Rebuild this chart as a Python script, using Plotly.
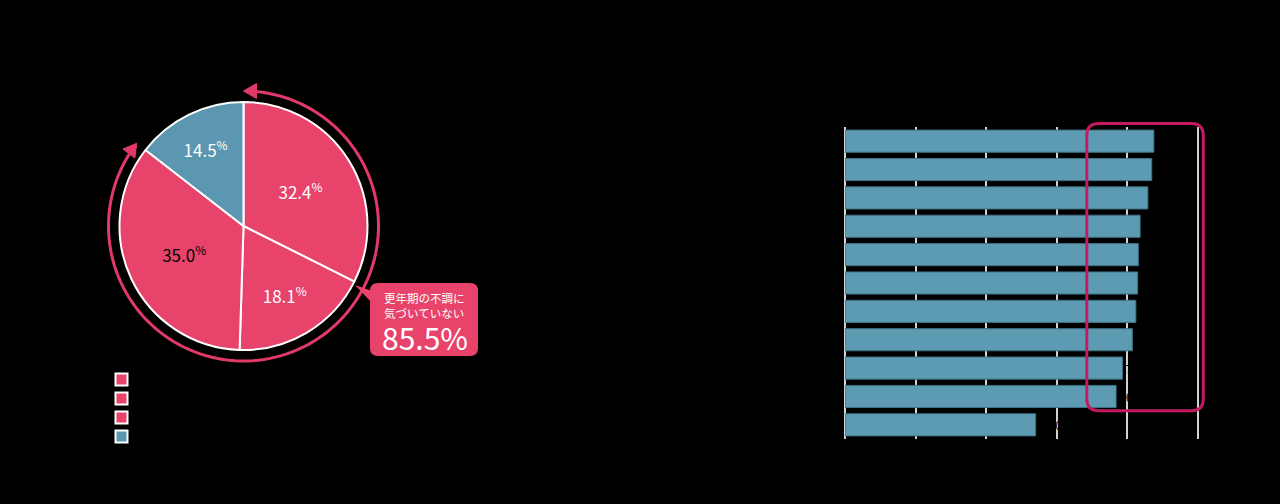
"""
更年期の不調に関する調査 - 円グラフ＋横棒グラフ
"""
import math
import plotly.graph_objects as go

W, H = 1280, 504

# 円グラフのデータ（12時の位置から時計回り）
pie_labels = ["不調はあるが更年期とは思わない", "不調を感じていない", "わからない", "更年期の不調に気づいている"]
pie_values = [32.4, 18.1, 35.0, 14.5]
pie_noticed = [False, False, False, True]

callout_lines = ["更年期の不調に", "気づいていない"]

# 横棒グラフのデータ（上から順）
bar_categories = [str(i) for i in range(1, 12)]
bar_values = [87.5, 86.9, 85.8, 83.6, 83.1, 82.9, 82.4, 81.4, 78.6, 76.8, 54.0]
highlight_range = [68.5, 101.5]   # 枠で囲む範囲（%）
highlight_rows = [0, 9]           # 枠で囲む行（上から）
x_max = 100.5

PINK = "#e8446b"
BLUE = "#5b97b0"
BAR = "#5c9bb2"
ARC = "#e23a68"
FRAME = "#c41a62"


def px(x):
    return x / W


def py(y):
    return 1 - y / H


fig = go.Figure()

# --- 円グラフ ---
cx, cy, r = 243.5, 226.0, 124.0
fig.add_trace(go.Pie(
    labels=pie_labels,
    values=pie_values,
    sort=False,
    direction="clockwise",
    rotation=0,
    text=[f"{v:.1f}<sup>%</sup>" for v in pie_values],
    textinfo="text",
    textposition="inside",
    insidetextorientation="horizontal",
    textfont=dict(size=17, family="Noto Sans CJK JP",
                  color=["white", "white", "black", "white"]),
    marker=dict(colors=[BLUE if n else PINK for n in pie_noticed],
                line=dict(color="white", width=2)),
    domain=dict(x=[px(cx - r), px(cx + r)], y=[py(cy + r), py(cy - r)]),
    hovertemplate="%{label}: %{value}%<extra></extra>",
    showlegend=True,
))

# --- 横棒グラフ ---
ax_x0 = 845.0
sx = 3.53                      # 1% あたりの幅（px）
ax_x1 = ax_x0 + x_max * sx
ax_y0, ax_y1 = 127.0, 439.0
fig.add_trace(go.Bar(
    x=bar_values,
    y=bar_categories,
    orientation="h",
    marker=dict(color=BAR, line=dict(color="#3f7284", width=1)),
    text=[f"{v:.1f}" for v in bar_values],
    textposition="outside",
    textfont=dict(color="black", size=12),
    cliponaxis=False,
    showlegend=False,
    hovertemplate="%{y}: %{x:.1f}%<extra></extra>",
))

shapes = []

# 「気づいていない」合計を示す矢印付きの円弧
not_noticed = sum(v for v, n in zip(pie_values, pie_noticed) if not n)
ra = 135.0
t0, t1 = 0.0, math.radians(not_noticed * 3.6)
head_len, head_w = 13.0, 7.5


def arc_pt(t, rad=ra):
    return cx + rad * math.sin(t), cy - rad * math.cos(t)


trim = head_len / ra
n = 120
pts = [arc_pt(t0 + trim + (t1 - trim - (t0 + trim)) * i / n) for i in range(n + 1)]
path = "M" + " L".join(f"{px(x):.5f},{py(y):.5f}" for x, y in pts)
shapes.append(dict(type="path", xref="paper", yref="paper", path=path,
                   line=dict(color=ARC, width=3)))


def arrow_head(t, sign):
    tx, ty = arc_pt(t)
    dx, dy = sign * math.cos(t), sign * math.sin(t)   # 接線方向
    bx, by = tx - dx * head_len, ty - dy * head_len
    nx, ny = -dy, dx
    p = [(tx, ty), (bx + nx * head_w, by + ny * head_w), (bx - nx * head_w, by - ny * head_w)]
    return dict(type="path", xref="paper", yref="paper",
                path="M" + " L".join(f"{px(a):.5f},{py(b):.5f}" for a, b in p) + " Z",
                fillcolor=ARC, line=dict(color=ARC, width=1))


shapes.append(arrow_head(t0, -1))
shapes.append(arrow_head(t1, 1))


def rounded_rect(x0, y0, x1, y1, rad):
    return (f"M{px(x0 + rad)},{py(y0)} L{px(x1 - rad)},{py(y0)} Q{px(x1)},{py(y0)} {px(x1)},{py(y0 + rad)} "
            f"L{px(x1)},{py(y1 - rad)} Q{px(x1)},{py(y1)} {px(x1 - rad)},{py(y1)} "
            f"L{px(x0 + rad)},{py(y1)} Q{px(x0)},{py(y1)} {px(x0)},{py(y1 - rad)} "
            f"L{px(x0)},{py(y0 + rad)} Q{px(x0)},{py(y0)} {px(x0 + rad)},{py(y0)} Z")


# 吹き出し
bx0, by0, bx1, by1 = 370, 283, 478, 356
shapes.append(dict(type="path", xref="paper", yref="paper",
                   path=rounded_rect(bx0, by0, bx1, by1, 8),
                   fillcolor=PINK, line=dict(width=0)))
shapes.append(dict(type="path", xref="paper", yref="paper",
                   path=f"M{px(355)},{py(285)} L{px(bx0 + 2)},{py(291)} L{px(bx0 + 2)},{py(303)} Z",
                   fillcolor=PINK, line=dict(width=0)))

# 横棒グラフの強調枠
sy = (ax_y1 - ax_y0) / len(bar_categories)
fr_x0 = ax_x0 + highlight_range[0] * sx
fr_x1 = ax_x0 + highlight_range[1] * sx
fr_y0 = ax_y0 + sy * (highlight_rows[0] - 0.12)
fr_y1 = ax_y0 + sy * (highlight_rows[1] + 1.0)
shapes.append(dict(type="path", xref="paper", yref="paper",
                   path=rounded_rect(fr_x0, fr_y0, fr_x1, fr_y1, 12),
                   line=dict(color=FRAME, width=3), layer="above"))

annotations = [
    dict(xref="paper", yref="paper", x=px(382), y=py(288), xanchor="left", yanchor="top",
         text="<br>".join(callout_lines), showarrow=False, align="left",
         font=dict(size=11.5, color="white", family="Noto Sans CJK JP")),
    dict(xref="paper", yref="paper", x=px(380), y=py(337), xanchor="left", yanchor="middle",
         text=f"{not_noticed:.1f}%", showarrow=False,
         font=dict(size=30, color="white", family="Noto Sans CJK JP")),
]

fig.update_layout(
    width=W, height=H,
    paper_bgcolor="black",
    plot_bgcolor="rgba(0,0,0,0)",
    margin=dict(l=0, r=0, t=0, b=0, autoexpand=False),
    font=dict(family="Noto Sans CJK JP", color="black"),
    shapes=shapes,
    annotations=annotations,
    bargap=0.22,
    legend=dict(x=px(101.5), y=py(365), xanchor="left", yanchor="top",
                font=dict(size=12, color="black"), tracegroupgap=0,
                bgcolor="rgba(0,0,0,0)"),
    xaxis=dict(domain=[px(ax_x0), px(ax_x1)], range=[0, x_max], dtick=20,
               showgrid=True, gridcolor="#d2d2d2", gridwidth=1.5,
               zeroline=True, zerolinecolor="#d2d2d2", zerolinewidth=1.5,
               showline=False, tickfont=dict(color="black"), side="top",
               automargin=False),
    yaxis=dict(domain=[py(ax_y1), py(ax_y0)], autorange="reversed",
               showgrid=False, showline=False, tickfont=dict(color="black"),
               automargin=False),
)

fig.write_html("out.html", config={"displayModeBar": False},
               post_script="document.body.style.margin='0';"
                           "document.documentElement.style.background='black';")
